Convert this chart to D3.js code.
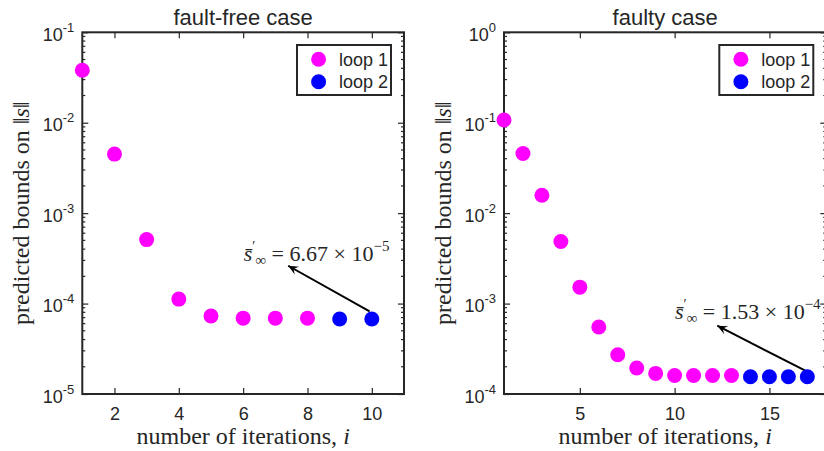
<!DOCTYPE html>
<html lang="en">
<head>
<meta charset="UTF-8">
<title>predicted bounds</title>
<script src="https://d3js.org/d3.v7.min.js"></script>
<style>
  body { margin: 0; background: #fff; }
  svg { display: block; }
  .sans { font-family: "Liberation Sans", Arial, sans-serif; fill: #262626; }
  .serif { font-family: "Liberation Serif", "Times New Roman", serif; fill: #262626; }
</style>
</head>
<body>
<script>
const width = 824, height = 451;

// fault-free case
const freeIter  = [1, 2, 3, 4, 5, 6, 7, 8, 9, 10];
const freeBound = [3.8e-2, 4.5e-3, 5.1e-4, 1.12e-4, 7.3e-5, 6.9e-5, 6.9e-5, 6.9e-5, 6.75e-5, 6.75e-5];
const freeLoop  = [1, 1, 1, 1, 1, 1, 1, 1, 2, 2];

// faulty case
const faultIter  = [1, 2, 3, 4, 5, 6, 7, 8, 9, 10, 11, 12, 13, 14, 15, 16, 17];
const faultBound = [0.107, 0.0456, 0.0158, 0.00485, 0.00152, 5.5e-4, 2.72e-4, 1.94e-4, 1.69e-4,
                    1.6e-4, 1.6e-4, 1.6e-4, 1.6e-4, 1.55e-4, 1.55e-4, 1.55e-4, 1.55e-4];
const faultLoop  = [1, 1, 1, 1, 1, 1, 1, 1, 1, 1, 1, 1, 1, 2, 2, 2, 2];

const loopNames  = ["loop 1", "loop 2"];
const loopColors = ["#ff00ff", "#0000ff"];

const freeXTicks  = [2, 4, 6, 8, 10];
const faultXTicks = [5, 10, 15];

const plotTop = 32.3, plotBottom = 394;

const panels = [
  {
    title: "fault-free case", iter: freeIter, bound: freeBound, loop: freeLoop,
    xDomain: [1, 11], yDomain: [1e-5, 1e-1], xTicks: freeXTicks,
    left: 82.3, right: 404,
    note: { mant: "6.67", exp: "\u22125", text: [6.02, 2.92e-4], head: [7.40, 2.62e-4], tail: [9.93, 8.2e-5] }
  },
  {
    title: "faulty case", iter: faultIter, bound: faultBound, loop: faultLoop,
    xDomain: [1, 18], yDomain: [1e-4, 1], xTicks: faultXTicks,
    left: 504, right: 826.3,
    note: { mant: "1.53", exp: "\u22124", text: [10.02, 6.74e-4], head: [12.25, 5.69e-4], tail: [16.97, 1.78e-4] }
  }
];

const svg = d3.select("body").append("svg")
  .attr("width", width).attr("height", height);

const axisColor = "#262626";

panels.forEach(p => {
  const x = d3.scaleLinear().domain(p.xDomain).range([p.left, p.right]);
  const y = d3.scaleLog().domain(p.yDomain).range([plotBottom, plotTop]);
  const g = svg.append("g");

  const e0 = Math.round(Math.log10(p.yDomain[0])), e1 = Math.round(Math.log10(p.yDomain[1]));
  const exps = d3.range(e0, e1 + 1);
  const minors = exps.slice(0, -1).flatMap(e => d3.range(2, 10).map(k => k * Math.pow(10, e)));

  // minor ticks, left and right
  g.append("g").selectAll("line").data(minors).join("line")
    .attr("x1", p.left).attr("x2", p.left + 3)
    .attr("y1", d => y(d)).attr("y2", d => y(d))
    .attr("stroke", axisColor).attr("stroke-width", 1.2);
  g.append("g").selectAll("line").data(minors).join("line")
    .attr("x1", p.right).attr("x2", p.right - 3)
    .attr("y1", d => y(d)).attr("y2", d => y(d))
    .attr("stroke", axisColor).attr("stroke-width", 1.2);

  // major y ticks
  const yAxis = d3.axisLeft(y).tickValues(exps.map(e => Math.pow(10, e)))
    .tickSizeInner(-6).tickSizeOuter(0).tickPadding(8).tickFormat("");
  const ya = g.append("g").attr("transform", `translate(${p.left},0)`).call(yAxis);
  ya.select(".domain").remove();
  ya.selectAll("line").attr("stroke", axisColor).attr("stroke-width", 1.2);
  ya.selectAll(".tick").each(function (d, i) {
    const t = d3.select(this).select("text")
      .attr("class", "sans").attr("font-size", 18).attr("dy", null)
      .attr("y", 8).attr("fill", axisColor);
    t.append("tspan").text("10");
    t.append("tspan").attr("font-size", 13).attr("dy", -9).text(exps[i] < 0 ? "-" + (-exps[i]) : exps[i]);
  });
  const yRight = d3.axisRight(y).tickValues(exps.map(e => Math.pow(10, e)))
    .tickSizeInner(-6).tickSizeOuter(0).tickFormat("");
  const yr = g.append("g").attr("transform", `translate(${p.right},0)`).call(yRight);
  yr.select(".domain").remove();
  yr.selectAll("line").attr("stroke", axisColor).attr("stroke-width", 1.2);

  // x ticks bottom and top
  const xAxis = d3.axisBottom(x).tickValues(p.xTicks).tickSizeInner(-6).tickSizeOuter(0).tickPadding(13);
  const xa = g.append("g").attr("transform", `translate(0,${plotBottom})`).call(xAxis);
  xa.select(".domain").remove();
  xa.selectAll("line").attr("stroke", axisColor).attr("stroke-width", 1.2);
  xa.selectAll("text").attr("class", "sans").attr("font-size", 18).attr("fill", axisColor);
  const xTop = d3.axisTop(x).tickValues(p.xTicks).tickSizeInner(-6).tickSizeOuter(0).tickFormat("");
  const xt = g.append("g").attr("transform", `translate(0,${plotTop})`).call(xTop);
  xt.select(".domain").remove();
  xt.selectAll("line").attr("stroke", axisColor).attr("stroke-width", 1.2);

  // box
  g.append("rect")
    .attr("x", p.left).attr("y", plotTop)
    .attr("width", p.right - p.left).attr("height", plotBottom - plotTop)
    .attr("fill", "none").attr("stroke", axisColor).attr("stroke-width", 2);

  // title
  g.append("text").attr("class", "sans")
    .attr("x", (p.left + p.right) / 2).attr("y", 25)
    .attr("text-anchor", "middle").attr("font-size", 22).attr("fill", "#000")
    .text(p.title);

  // axis labels
  const xl = g.append("text").attr("class", "serif")
    .attr("x", (p.left + p.right) / 2).attr("y", 443.5)
    .attr("text-anchor", "middle").attr("font-size", 24);
  xl.append("tspan").text("number of iterations, ");
  xl.append("tspan").attr("font-style", "italic").text("i");

  const yl = g.append("text").attr("class", "serif")
    .attr("transform", `translate(${p.left - 53},${(plotTop + plotBottom) / 2}) rotate(-90)`)
    .attr("text-anchor", "middle").attr("font-size", 24);
  yl.append("tspan").text("predicted bounds on \u2016");
  yl.append("tspan").attr("font-style", "italic").text("s");
  yl.append("tspan").text("\u2016");

  // legend
  const lw = 94, lh = 50;
  const lx = p.right - 13 - lw, ly = plotTop + 12.7;
  const lg = g.append("g").attr("transform", `translate(${lx},${ly})`);
  lg.append("rect").attr("width", lw).attr("height", lh)
    .attr("fill", "#fff").attr("stroke", axisColor).attr("stroke-width", 2);
  loopNames.forEach((name, i) => {
    lg.append("circle").attr("cx", 21.6).attr("cy", 14.3 + i * 22.4).attr("r", 7.5)
      .attr("fill", loopColors[i]);
    lg.append("text").attr("class", "sans").attr("x", 42).attr("y", 14.3 + i * 22.4 + 6.5)
      .attr("font-size", 18).attr("fill", "#000").text(name);
  });

  // annotation arrow
  const n = p.note;
  const hx = x(n.head[0]), hy = y(n.head[1]);
  const tx = x(n.tail[0]), ty = y(n.tail[1]);
  g.append("line").attr("x1", tx).attr("y1", ty).attr("x2", hx).attr("y2", hy)
    .attr("stroke", "#000").attr("stroke-width", 2);
  const ang = Math.atan2(ty - hy, tx - hx);
  const L = 11, W = 0.42;
  const pt = (len, a) => [hx + len * Math.cos(ang + a), hy + len * Math.sin(ang + a)];
  g.append("path")
    .attr("d", d3.line()([[hx, hy], pt(L, W), pt(L * 0.55, 0), pt(L, -W)]) + "Z")
    .attr("fill", "#000");

  const at = g.append("text").attr("class", "serif")
    .attr("x", x(n.text[0])).attr("y", y(n.text[1]))
    .attr("font-size", 22).attr("fill", "#000");
  at.append("tspan").attr("font-style", "italic").text("s\u0304");
  at.append("tspan").attr("font-size", 14).attr("dy", -10).text("\u2032");
  at.append("tspan").attr("font-size", 15).attr("dy", 14).text("\u221e");
  at.append("tspan").attr("dy", -4).text(" = " + n.mant + " \u00d7 10");
  at.append("tspan").attr("font-size", 15).attr("dy", -10).text(n.exp);

  // markers
  g.append("g").selectAll("circle")
    .data(d3.zip(p.iter, p.bound, p.loop))
    .join("circle")
    .attr("cx", d => x(d[0])).attr("cy", d => y(d[1])).attr("r", 7.5)
    .attr("fill", d => loopColors[d[2] - 1]);
});
</script>
</body>
</html>
